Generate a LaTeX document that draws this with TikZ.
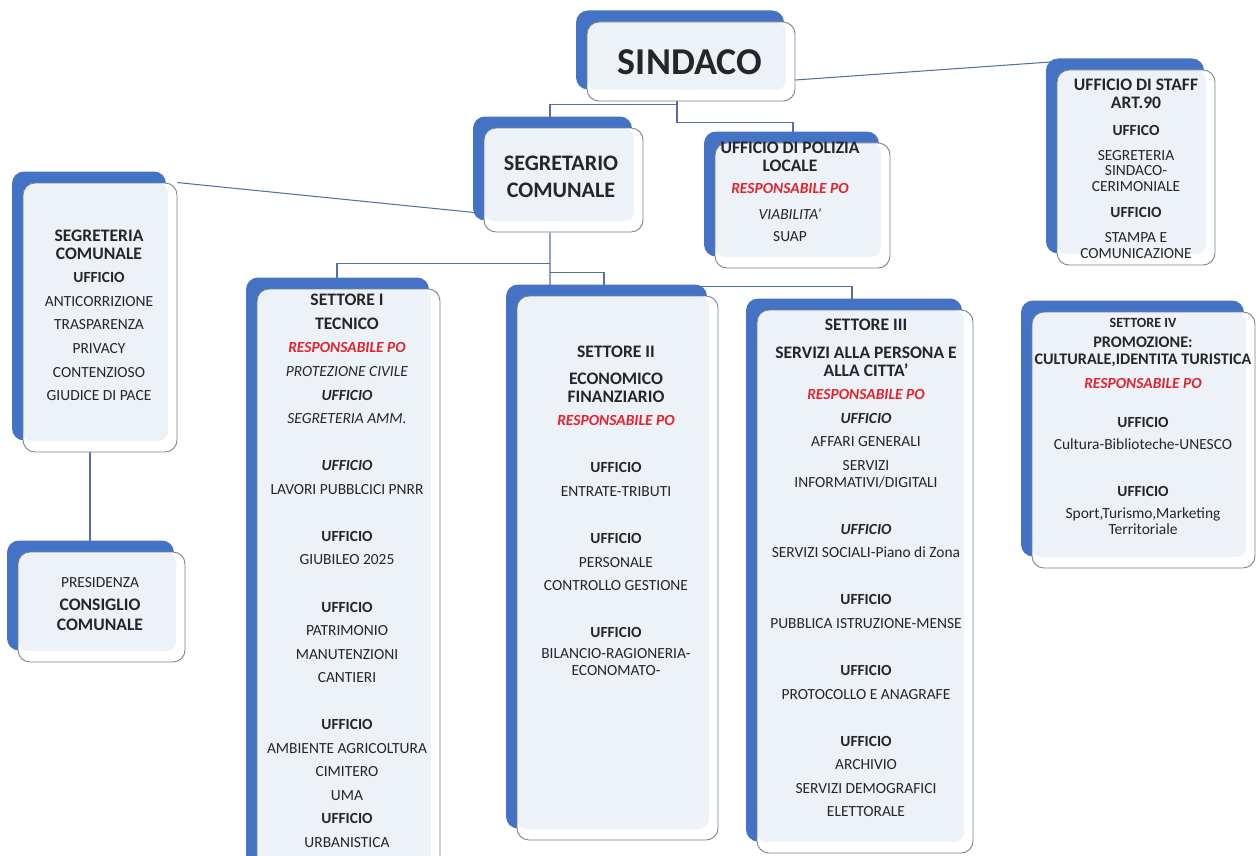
\documentclass[tikz,border=0pt]{standalone}
\usepackage{fontspec}
\setmainfont{Carlito}
\usetikzlibrary{shadows,backgrounds}
\definecolor{bluscuro}{RGB}{68,114,196}
\definecolor{fondo}{RGB}{237,241,248}
\definecolor{bordo}{RGB}{120,128,140}
\definecolor{rosso}{RGB}{226,36,44}
\definecolor{scuro}{RGB}{38,38,38}
\definecolor{lineablu}{RGB}{84,112,160}
\tikzstyle{scheda} = [rectangle, rounded corners=0.24cm, draw=bordo, line width=0.5pt, fill=white, general shadow={fill=bluscuro, shadow xshift=-0.22cm, shadow yshift=0.23cm}, path picture={\fill[fondo, rounded corners=0.2cm] (path picture bounding box.north west) rectangle ([xshift=-0.18cm,yshift=0.22cm]path picture bounding box.south east);}]
\tikzstyle{testo} = [align=center, inner sep=0pt, text=scuro, font=\fontsize{8.8}{13.4}\selectfont]
\tikzstyle{filo} = [draw=lineablu, line width=0.6pt]
\newcommand{\capo}[1]{{\bfseries\fontsize{10}{13.4}\selectfont #1}}
\newcommand{\capino}[1]{{\bfseries\fontsize{9.2}{13.4}\selectfont #1}}
\newcommand{\resp}{{\color{rosso}\bfseries\itshape RESPONSABILE PO}}
\newcommand{\uff}{\textbf{UFFICIO}}
\newcommand{\uffi}{\textbf{\textit{UFFICIO}}}

\begin{document}
\begin{tikzpicture}
    \useasboundingbox (0,0) rectangle (25.14,-17.12);

    % schede
    \node [scheda, minimum width=4.16cm, minimum height=1.58cm] (sindaco) at (13.82,-1.23) {};
    \node [scheda, minimum width=3.16cm, minimum height=3.9cm] (staff) at (22.72,-3.35) {};
    \node [scheda, minimum width=3.5cm, minimum height=2.5cm] (polizia) at (16.05,-4.11) {};
    \node [scheda, minimum width=3.18cm, minimum height=2.08cm] (segretario) at (11.27,-3.6) {};
    \node [scheda, minimum width=3.08cm, minimum height=5.38cm] (segreteria) at (2.0,-6.35) {};
    \node [scheda, minimum width=3.34cm, minimum height=2.2cm] (presidenza) at (2.03,-12.14) {};
    \node [scheda, minimum width=3.66cm, minimum height=11.92cm] (settore1) at (6.97,-11.74) {};
    \node [scheda, minimum width=4.02cm, minimum height=10.88cm] (settore2) at (12.35,-11.36) {};
    \node [scheda, minimum width=4.32cm, minimum height=10.86cm] (settore3) at (17.3,-11.63) {};
    \node [scheda, minimum width=4.46cm, minimum height=5.12cm] (settore4) at (22.87,-8.8) {};

    % collegamenti
    \begin{scope}[on background layer]
        \draw [filo] ([xshift=-0.28cm]sindaco.south) -- ++(0,-0.06) -| ([xshift=-0.27cm]segretario.north);
        \draw [filo] ([xshift=-0.28cm]sindaco.south) -- ++(0,-0.42) -| ([xshift=-0.19cm]polizia.north);
        \draw [filo] ([yshift=-0.37cm]sindaco.east) -- ([yshift=0.16cm]staff.north west);
        \draw [filo] (segreteria.north east) -- ([yshift=0.38cm]segretario.south west);
        \draw [filo] ([xshift=-0.2cm]segreteria.south) -- ([xshift=-0.23cm]presidenza.north);
        \draw [filo] ([xshift=-0.27cm]segretario.south) -- ([xshift=-1.35cm]settore2.north);
        \draw [filo] ([xshift=-0.27cm,yshift=-0.62cm]segretario.south) -| ([xshift=-0.23cm]settore1.north);
        \draw [filo] ([xshift=-0.27cm,yshift=-0.8cm]segretario.south) -| ++(1.08,-0.28) -| ([xshift=-0.26cm]settore3.north);
    \end{scope}

    % testi
    \node [testo, font=\bfseries\fontsize{21.6}{26}\selectfont] (sindaco-t) at (13.8,-1.24) {SINDACO};
    \node [testo, font=\bfseries\fontsize{12.6}{15.3}\selectfont] (segretario-t) at (11.22,-3.53) {SEGRETARIO\\COMUNALE};

    \node [testo, anchor=north] (staff-t) at (22.72,-1.58) {\capo{UFFICIO DI STAFF}\\[-3.5pt] \capo{ART.90}\\[2pt] \textbf{UFFICO}\\[1pt] SEGRETERIA\\[-4.8pt] SINDACO-\\[-4.2pt] CERIMONIALE\\[1pt] \uff\\[1pt] STAMPA E\\[-4.2pt] COMUNICAZIONE};

    \node [testo, anchor=north] (polizia-t) at (15.8,-2.84) {\capo{UFFICIO DI POLIZIA}\\[-3.5pt] \capo{LOCALE}\\[-1pt] \resp\\[1.5pt] \textit{VIABILITA'}\\[-0.5pt] SUAP};

    \node [testo, anchor=north] (segreteria-t) at (1.98,-4.6) {\capo{SEGRETERIA}\\[-3.5pt] \capo{COMUNALE}\\ \uff\\ ANTICORRIZIONE\\ TRASPARENZA\\ PRIVACY\\ CONTENZIOSO\\ GIUDICE DI PACE};

    \node [testo, anchor=north] (presidenza-t) at (2.0,-11.54) {PRESIDENZA\\ \capo{CONSIGLIO}\\[-2pt] \capo{COMUNALE}};

    \node [testo, anchor=north] (settore1-t) at (6.94,-5.88) {\capo{SETTORE I}\\ \capo{TECNICO}\\ \resp\\ \textit{PROTEZIONE CIVILE}\\ \uffi\\ \textit{SEGRETERIA AMM.}\\[13.4pt] \uffi\\ LAVORI PUBBLCICI PNRR\\[13.4pt] \uff\\ GIUBILEO 2025\\[13.4pt] \uff\\ PATRIMONIO\\ MANUTENZIONI\\ CANTIERI\\[13.4pt] \uff\\ AMBIENTE AGRICOLTURA\\ CIMITERO\\ UMA\\ \uff\\ URBANISTICA};

    \node [testo, anchor=north] (settore2-t) at (12.32,-6.92) {\capo{SETTORE II}\\[2pt] \capo{ECONOMICO}\\[-3.5pt] \capo{FINANZIARIO}\\ \resp\\[13.4pt] \uff\\ ENTRATE-TRIBUTI\\[13.4pt] \uff\\ PERSONALE\\ CONTROLLO GESTIONE\\[13.4pt] \uff\\[-1.5pt] BILANCIO-RAGIONERIA-\\[-3.8pt] ECONOMATO-};

    \node [testo, anchor=north] (settore3-t) at (17.32,-6.38) {\capo{SETTORE III}\\[2.4pt] \capo{SERVIZI ALLA PERSONA E}\\[-3.5pt] \capo{ALLA CITTA'}\\ \resp\\ \uffi\\ AFFARI GENERALI\\ SERVIZI\\[-3.8pt] INFORMATIVI/DIGITALI\\[13.4pt] \uffi\\ SERVIZI SOCIALI-Piano di Zona\\[13.4pt] \uff\\ PUBBLICA ISTRUZIONE-MENSE\\[13.4pt] \uff\\ PROTOCOLLO E ANAGRAFE\\[13.4pt] \uff\\ ARCHIVIO\\ SERVIZI DEMOGRAFICI\\ ELETTORALE};

    \node [testo, anchor=north] (settore4-t) at (22.86,-6.36) {{\bfseries\fontsize{8}{13.4}\selectfont SETTORE IV}\\[-2pt] \capino{PROMOZIONE:}\\[-3.8pt] \capino{CULTURALE,IDENTITA TURISTICA}\\ \resp\\[9pt] \uff\\[-1pt] Cultura-Biblioteche-UNESCO\\[13.4pt] \uff\\[-1pt] Sport,Turismo,Marketing\\[-3.8pt] Territoriale};
\end{tikzpicture}
\end{document}
